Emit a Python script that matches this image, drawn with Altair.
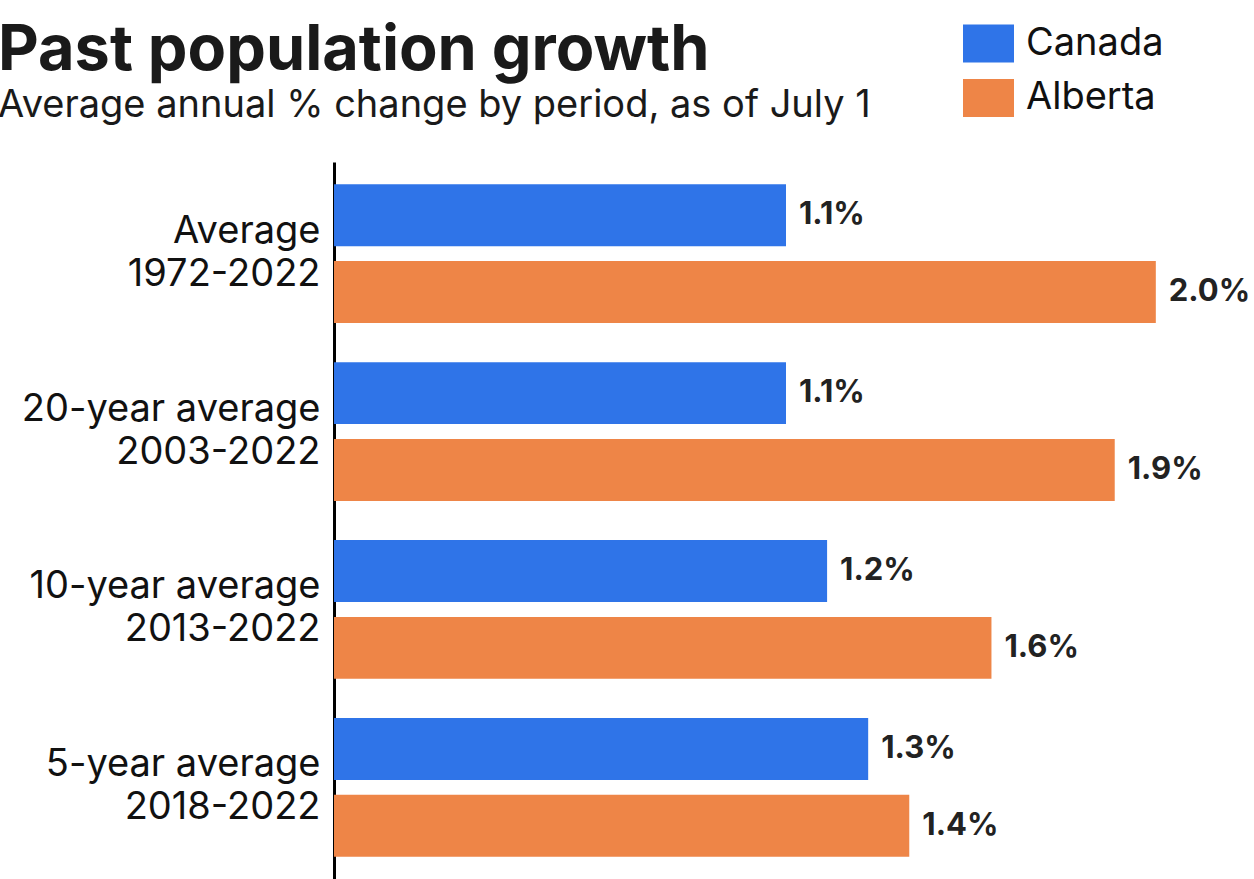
import altair as alt
import pandas as pd

periods = ["Average|1972-2022", "20-year average|2003-2022", "10-year average|2013-2022", "5-year average|2018-2022"]
series = ["Canada", "Alberta"]
canada = [1.1, 1.1, 1.2, 1.3]
alberta = [2.0, 1.9, 1.6, 1.4]
colors = ["#2F74E8", "#EE8547"]

rows = []
for p, c, a in zip(periods, canada, alberta):
    rows.append({"period": p, "series": "Canada", "value": c})
    rows.append({"period": p, "series": "Alberta", "value": a})
df = pd.DataFrame(rows)

FONT = "Inter"

y = alt.Y("period:N", sort=periods, title=None,
          scale=alt.Scale(paddingInner=0.22, paddingOuter=0.125),
          axis=alt.Axis(labelExpr="split(datum.label, '|')", labelFont=FONT, labelFontSize=38,
                        labelColor="#111111", labelLineHeight=43, labelPadding=14, ticks=False,
                        domainColor="#000000", domainWidth=3, labelAlign="right",
                        labelBaseline="middle", labelOffset=-22, labelLimit=400, grid=False))
yoff = alt.YOffset("series:N", sort=series, scale=alt.Scale(paddingInner=0.195))
x = alt.X("value:Q", scale=alt.Scale(domain=[0, 2.2]), axis=None)

bars = alt.Chart(df).mark_bar().encode(
    x=x, y=y, yOffset=yoff,
    color=alt.Color("series:N", sort=series,
                    scale=alt.Scale(domain=series, range=colors),
                    legend=alt.Legend(title=None, orient="none", legendX=629, legendY=-144,
                                      symbolType="M-1,-0.745H1V0.745H-1Z", symbolSize=2601,
                                      labelFont=FONT, labelFontSize=38, labelColor="#111111",
                                      symbolOpacity=1, symbolStrokeWidth=0, rowPadding=9.5,
                                      labelOffset=12, padding=0)),
)

labels = alt.Chart(df).transform_calculate(
    label="format(datum.value, '.1f') + '%'"
).mark_text(align="left", baseline="middle", dx=13, font=FONT, fontSize=31,
            fontWeight="bold", color="#222222").encode(
    x=x, y=y, yOffset=yoff, text="label:N"
)

chart = alt.layer(bars, labels).properties(
    width=904, height=717,
    title=alt.TitleParams(
        text="Past population growth",
        subtitle="Average annual % change by period, as of July 1",
        anchor="start", frame="group", dx=-336, dy=127, font=FONT, fontSize=63, fontWeight="bold",
        color="#1a1a1a", subtitleFont=FONT, subtitleFontSize=38, subtitleColor="#1a1a1a",
        subtitlePadding=4, offset=20),
    autosize=alt.AutoSizeParams(type="none"),
    padding={"left": 334, "top": 162, "right": 16, "bottom": 0},
).configure_view(stroke=None)

chart.save("out.html", embed_options={"renderer": "svg", "actions": False})
